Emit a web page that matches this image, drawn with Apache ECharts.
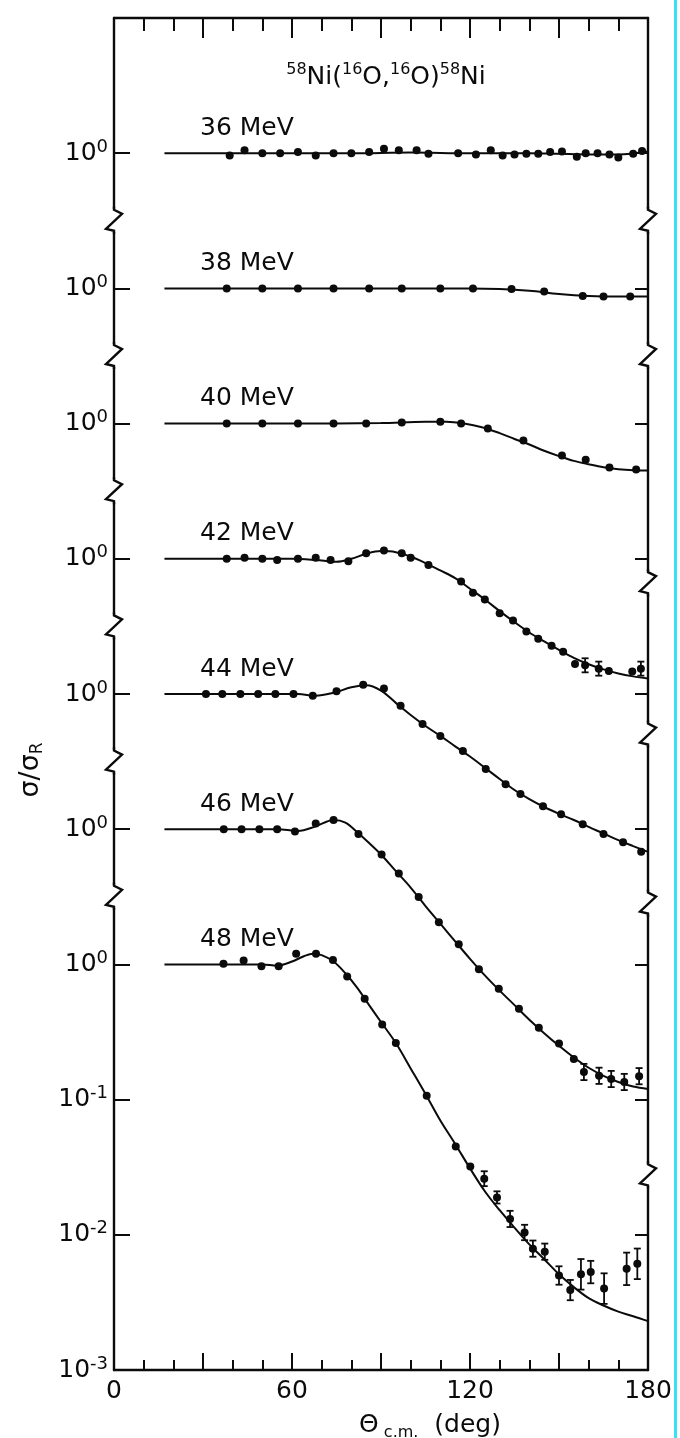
<!DOCTYPE html>
<html><head><meta charset="utf-8">
<script src="https://cdn.jsdelivr.net/npm/echarts/dist/echarts.min.js"></script>
<style>html,body{margin:0;padding:0;background:#fff;}#c{width:680px;height:1438px;}</style>
</head><body><div id="c"></div>
<script>
// ---------- data ----------
const energies = ['36 MeV','38 MeV','40 MeV','42 MeV','44 MeV','46 MeV','48 MeV'];
const decadeShift = [6,5,4,3,2,1,0];           // each panel displaced by one decade
const xTickLabels = [0, 60, 120, 180];
const yTickExps = [-3,-2,-1,0,1,2,3,4,5,6,7];
const yTickSup  = ['-3','-2','-1','0','0','0','0','0','0','0',''];
const title = ['58','Ni(','16','O,','16','O)','58','Ni'];

// optical-model curves [theta_cm, sigma/sigma_R]
const curve36 = [[17,1.0],[40,1.0],[60,1.0],[80,1.0],[100,1.01],[120,1.0],[140,1.0],[150,0.99],[160,0.98],[170,0.98],[180,1.03]];
const curve38 = [[17,1.0],[60,1.0],[100,1.0],[120,1.0],[130,0.99],[140,0.96],[150,0.91],[160,0.88],[170,0.87],[180,0.87]];
const curve40 = [[17,1.0],[60,1.0],[90,1.01],[105,1.03],[112,1.03],[118,1.0],[124,0.94],[130,0.85],[135,0.77],[140,0.7],[145,0.63],[150,0.575],[155,0.53],[160,0.5],[165,0.475],[170,0.46],[175,0.452],[180,0.45]];
const curve42 = [[17,1.0],[60,1.0],[68,0.98],[75,0.95],[80,1.0],[85,1.09],[90,1.14],[95,1.12],[100,1.04],[105,0.93],[110,0.82],[115,0.72],[120,0.6],[125,0.5],[130,0.41],[135,0.34],[140,0.285],[145,0.245],[150,0.212],[155,0.185],[160,0.166],[165,0.152],[170,0.142],[175,0.135],[180,0.13]];
const curve44 = [[17,1.0],[62,1.0],[68,0.97],[74,1.02],[80,1.12],[85,1.16],[90,1.06],[95,0.86],[100,0.7],[105,0.58],[110,0.49],[115,0.41],[120,0.345],[125,0.285],[130,0.235],[135,0.195],[140,0.167],[145,0.146],[150,0.13],[155,0.117],[160,0.104],[165,0.093],[170,0.083],[175,0.075],[180,0.068]];
const curve46 = [[17,1.0],[55,1.0],[62,0.97],[68,1.05],[74,1.17],[78,1.12],[82,0.95],[86,0.79],[90,0.65],[95,0.49],[100,0.37],[105,0.27],[110,0.2],[115,0.148],[120,0.11],[125,0.083],[130,0.064],[135,0.05],[140,0.039],[145,0.031],[150,0.025],[155,0.0205],[160,0.0172],[165,0.015],[170,0.0135],[175,0.0125],[180,0.012]];
const curve48 = [[17,1.0],[50,1.0],[55,0.98],[60,1.05],[64,1.15],[67,1.2],[70,1.17],[74,1.05],[78,0.86],[82,0.67],[86,0.5],[90,0.375],[95,0.262],[100,0.17],[105,0.11],[110,0.07],[115,0.047],[120,0.031],[125,0.021],[130,0.0152],[135,0.0113],[140,0.0085],[145,0.0066],[150,0.0051],[155,0.0041],[160,0.0034],[165,0.003],[170,0.0027],[175,0.0025],[180,0.0023]];

// measured points [theta_cm, sigma/sigma_R, error (decades, optional)]
const pts36 = [[39,0.96],[44,1.05],[50,1.0],[56,1.0],[62,1.02],[68,0.96],[74,1.0],[80,1.0],[86,1.02],[91,1.08],[96,1.05],[102,1.05],[106,0.99],[116,1.0],[122,0.98],[127,1.05],[131,0.96],[135,0.98],[139,0.99],[143,0.99],[147,1.02],[151,1.03],[156,0.94],[159,1.0],[163,1.0],[167,0.98],[170,0.93],[175,0.99],[178,1.04]];
const pts38 = [[38,1.0],[50,1.0],[62,1.0],[74,1.0],[86,1.0],[97,1.0],[110,1.0],[121,1.0],[134,0.99],[145,0.95],[158,0.88],[165,0.87],[174,0.87]];
const pts40 = [[38,1.0],[50,1.0],[62,1.0],[74,1.0],[85,1.0],[97,1.02],[110,1.03],[117,1.0],[126,0.92],[138,0.75],[151,0.58],[159,0.54],[167,0.473],[176,0.457]];
const pts42 = [[38,1.0],[44,1.02],[50,1.0],[55,0.98],[62,1.0],[68,1.02],[73,0.98],[79,0.96],[85,1.1],[91,1.15],[97,1.1],[100,1.02],[106,0.9],[117,0.68],[121,0.56],[125,0.5],[130,0.395],[134.5,0.35],[139,0.29],[143,0.256],[147.5,0.227],[151.4,0.205],[155.4,0.167],[158.8,0.163,0.052],[163.4,0.154,0.052],[166.8,0.148],[174.7,0.147],[177.6,0.154,0.052]];
const pts44 = [[31,1.0],[36.5,1.0],[42.6,1.0],[48.6,1.0],[54.4,1.0],[60.5,1.0],[67,0.97],[75,1.05],[84,1.17],[91,1.1],[96.6,0.82],[104,0.6],[110,0.49],[117.6,0.378],[125.3,0.279],[132,0.215],[137,0.182],[144.6,0.148],[150.7,0.129],[158,0.109],[165,0.092],[171.6,0.08],[177.7,0.068]];
const pts46 = [[37,1.0],[43,1.0],[49,1.0],[55,1.0],[61,0.96],[68,1.1],[74,1.17],[82.4,0.92],[90.2,0.65],[96,0.47],[102.7,0.315],[109.5,0.205],[116.2,0.141],[123,0.092],[129.7,0.066],[136.5,0.047],[143.2,0.034],[150,0.026],[155,0.02],[158.4,0.016,0.06],[163.5,0.015,0.06],[167.6,0.0142,0.06],[172,0.0135,0.06],[177,0.0149,0.06]];
const pts48 = [[36.9,1.01],[43.7,1.07],[49.7,0.97],[55.5,0.97],[61.4,1.2],[68.1,1.2],[73.8,1.08],[78.6,0.815],[84.5,0.557],[90.4,0.36],[95,0.262],[105.4,0.107],[115.2,0.045],[120.1,0.032],[124.8,0.026,0.055],[129.1,0.0189,0.045],[133.5,0.0131,0.06],[138.4,0.0104,0.057],[141.2,0.0079,0.06],[145.2,0.0075,0.06],[150,0.005,0.068],[153.8,0.0039,0.075],[157.4,0.0051,0.113],[160.7,0.0053,0.083],[165.2,0.004,0.113],[172.8,0.0056,0.12],[176.4,0.0061,0.113]];

const curves = [curve36, curve38, curve40, curve42, curve44, curve46, curve48];
const points = [pts36, pts38, pts40, pts42, pts44, pts46, pts48];

// axis-break marks (log10 of axis value)
const leftBreaks = [5.5, 4.5, 3.5, 2.5, 1.5, 0.5];
const rightBreaks = [5.5, 4.5, 2.82, 1.7, 0.45, -1.56];

// ---------- chart ----------
const FONT = 'DejaVu Sans';
const INK = '#0b0b0b';
const chart = echarts.init(document.getElementById('c'));

function errRender(params, api) {
  const x = api.value(0), v = api.value(1), d = api.value(2);
  const f = Math.pow(10, d);
  const a = api.coord([x, v * f]);
  const b = api.coord([x, v / f]);
  const cw = 3.5;
  const st = {stroke: INK, lineWidth: 1.8};
  return {type: 'group', children: [
    {type: 'line', shape: {x1: a[0], y1: a[1], x2: b[0], y2: b[1]}, style: st},
    {type: 'line', shape: {x1: a[0] - cw, y1: a[1], x2: a[0] + cw, y2: a[1]}, style: st},
    {type: 'line', shape: {x1: b[0] - cw, y1: b[1], x2: b[0] + cw, y2: b[1]}, style: st}
  ]};
}

const series = [];
curves.forEach((c, i) => {
  const f = Math.pow(10, decadeShift[i]);
  series.push({type: 'line', data: c.map(d => [d[0], d[1] * f]), showSymbol: false, smooth: 0.35,
    lineStyle: {color: INK, width: 2}, silent: true, z: 2});
  series.push({type: 'scatter', data: points[i].map(d => [d[0], d[1] * f]), symbolSize: 8,
    itemStyle: {color: INK, opacity: 1}, z: 4});
  const eb = points[i].filter(d => d[2]).map(d => [d[0], d[1] * f, d[2]]);
  if (eb.length) series.push({type: 'custom', renderItem: errRender, data: eb, encode: {x: 0, y: 1}, z: 3});
});

const axisLineStyle = {color: INK, width: 2.4};
function xAxisCfg(pos, major, minor, showLabel) {
  return {
    type: 'value', position: pos, min: 0, max: 180, interval: 30,
    axisLine: {show: true, onZero: false, lineStyle: axisLineStyle},
    axisTick: {show: true, inside: true, length: major, lineStyle: {color: INK, width: 2}},
    minorTick: {show: true, splitNumber: 3, length: minor, lineStyle: {color: INK, width: 2}},
    splitLine: {show: false}, minorSplitLine: {show: false},
    axisLabel: {show: showLabel, margin: 9, color: INK, fontFamily: FONT, fontSize: 25,
      formatter: v => xTickLabels.indexOf(v) >= 0 ? String(v) : ''}
  };
}
function yAxisCfg(pos, tick, showLabel) {
  return {
    type: 'log', logBase: 10, position: pos, min: 1e-3, max: 1e7, interval: 1,
    axisLine: {show: true, onZero: false, lineStyle: axisLineStyle},
    axisTick: {show: true, inside: true, length: tick, lineStyle: {color: INK, width: 2}},
    splitLine: {show: false}, minorTick: {show: false},
    axisLabel: {show: showLabel, margin: 6, color: INK,
      formatter: v => {
        const e = Math.round(Math.log10(v));
        const k = yTickExps.indexOf(e);
        if (k < 0 || yTickSup[k] === '') return '';
        return '{b|10}{s|' + yTickSup[k] + '}';
      },
      rich: {
        b: {fontFamily: FONT, fontSize: 25, color: INK, verticalAlign: 'middle'},
        s: {fontFamily: FONT, fontSize: 18, color: INK, verticalAlign: 'middle', padding: [0, 0, 12, 0]}
      }}
  };
}

chart.setOption({
  animation: false,
  backgroundColor: '#fff',
  grid: {left: 114, right: 32, top: 18, bottom: 68, containLabel: false, outerBoundsMode: 'none'},
  xAxis: [xAxisCfg('bottom', 17, 10, true), xAxisCfg('top', 20, 13, false)],
  yAxis: [yAxisCfg('left', 16, true), yAxisCfg('right', 13, false)],
  series: series
});

// ---------- decorations positioned through the axes ----------
const px = (x, y) => chart.convertToPixel({seriesIndex: 0}, [x, y]);
const g = [];
function zig(xv, logv) {
  const p = px(xv, Math.pow(10, logv));
  const x = p[0], y = p[1];
  g.push({type: 'rect', z: 100, shape: {x: x - 4, y: y - 12, width: 8, height: 23}, style: {fill: '#fff'}});
  g.push({type: 'polyline', z: 101, shape: {points: [[x, y - 14], [x, y - 11], [x + 8, y - 7], [x - 8, y + 8], [x, y + 10], [x, y + 13]]},
    style: {stroke: INK, lineWidth: 2.4, fill: null}});
}
leftBreaks.forEach(b => zig(0, b));
rightBreaks.forEach(b => zig(180, b));

// energy labels
energies.forEach((t, i) => {
  const p = px(29, Math.pow(10, decadeShift[i]));
  g.push({type: 'text', z: 50, style: {text: t, x: p[0], y: p[1] - 25, fontFamily: FONT, fontSize: 25,
    fill: INK, align: 'left', verticalAlign: 'middle'}});
});

// reaction title
let rt = '';
title.forEach((s, i) => { rt += (i % 2 === 0 ? '{s|' : '{b|') + s + '}'; });
g.push({type: 'text', z: 50, style: {text: rt, x: 386, y: 77, align: 'center', verticalAlign: 'middle',
  rich: {b: {fontFamily: FONT, fontSize: 25, fill: INK, verticalAlign: 'middle'},
         s: {fontFamily: FONT, fontSize: 16, fill: INK, verticalAlign: 'middle', padding: [0, 0, 15, 0]}}}});

// y-axis title (rotated)
g.push({type: 'text', z: 50, x: 31, y: 770, rotation: Math.PI / 2,
  style: {text: '{b|σ/σ}{s|R}', x: 0, y: 0, align: 'center', verticalAlign: 'middle',
    rich: {b: {fontFamily: FONT, fontSize: 27, fill: INK, verticalAlign: 'middle'},
           s: {fontFamily: FONT, fontSize: 17, fill: INK, verticalAlign: 'middle', padding: [13, 0, 0, 0]}}}});

// x-axis title
g.push({type: 'text', z: 50, style: {text: '{b|Θ}{s| c.m.}{b|  (deg)}', x: 430, y: 1425, align: 'center', verticalAlign: 'middle',
  rich: {b: {fontFamily: FONT, fontSize: 25, fill: INK, verticalAlign: 'middle'},
         s: {fontFamily: FONT, fontSize: 16, fill: INK, verticalAlign: 'middle', padding: [16, 0, 0, 0]}}}});

// cyan scan edge
g.push({type: 'rect', z: 100, shape: {x: 674, y: 0, width: 3, height: 1438}, style: {fill: '#35e3f4'}});

chart.setOption({graphic: g});
</script>
</body></html>
